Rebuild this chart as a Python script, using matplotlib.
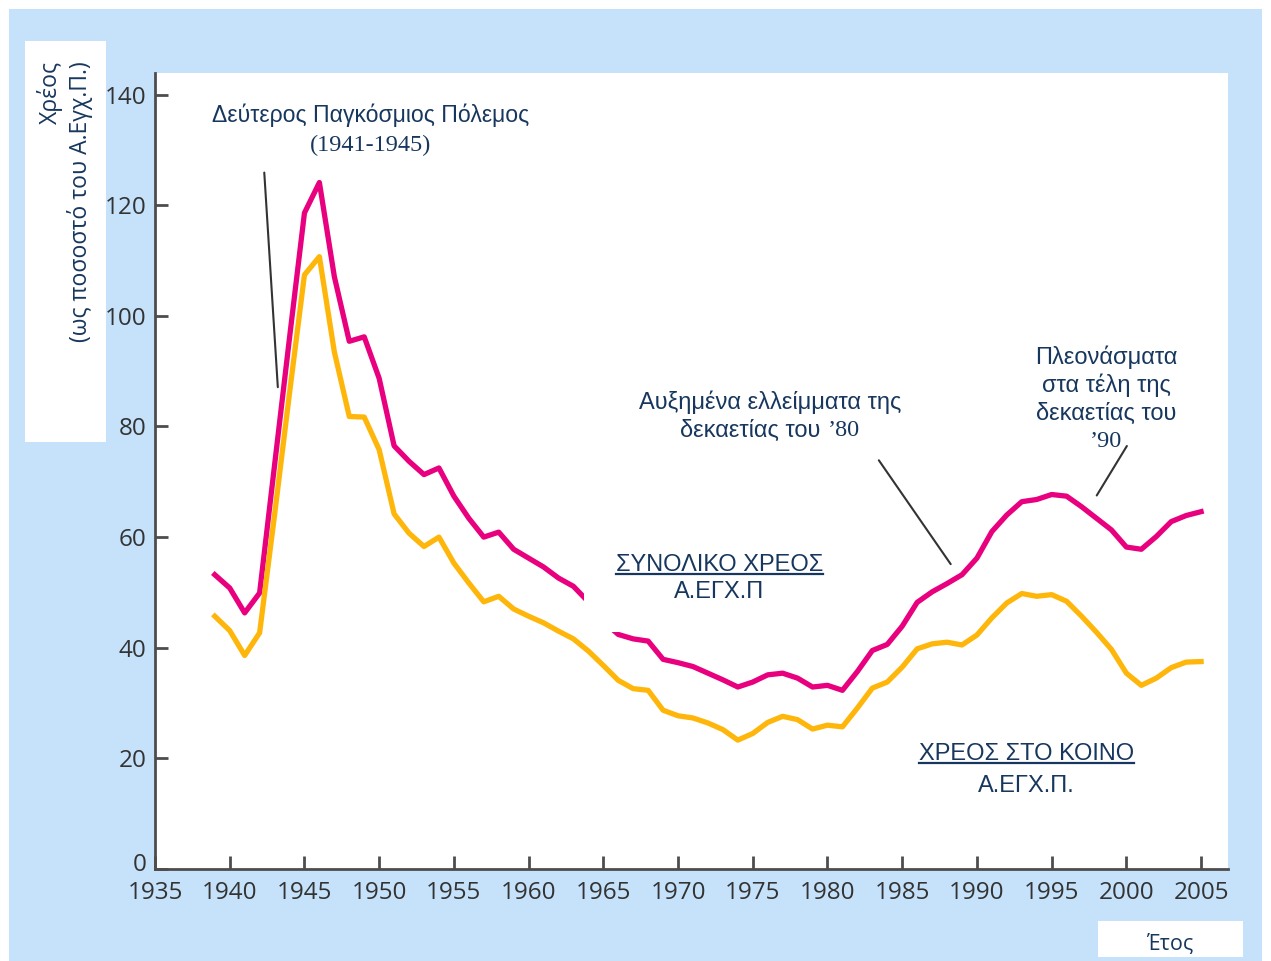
import matplotlib
matplotlib.use("Agg")
import matplotlib.pyplot as plt
from matplotlib.patches import Rectangle
from matplotlib.lines import Line2D
from matplotlib.transforms import IdentityTransform, ScaledTranslation

# --- data ---
years = list(range(1939, 2006))
total_debt = [53.2, 50.8, 46.3, 49.9, 73.0, 96.0, 118.6, 124.1, 107.1, 95.4,
              96.2, 88.7, 76.5, 73.7, 71.3, 72.5, 67.4, 63.4, 60.0, 60.9,
              57.8, 56.2, 54.6, 52.6, 51.1, 48.3, 44.8, 42.4, 41.6, 41.2,
              37.9, 37.3, 36.6, 35.4, 34.2, 32.9, 33.8, 35.1, 35.4, 34.5,
              32.9, 33.2, 32.3, 35.7, 39.5, 40.6, 43.9, 48.2, 50.1, 51.6,
              53.2, 56.2, 61.0, 64.0, 66.4, 66.8, 67.7, 67.4, 65.5, 63.4,
              61.3, 58.2, 57.8, 60.1, 62.8, 63.9, 64.6]
public_debt = [45.7, 43.1, 38.6, 42.7, 64.0, 86.0, 107.4, 110.7, 93.5, 81.8,
               81.7, 75.8, 64.2, 60.7, 58.3, 60.0, 55.3, 51.7, 48.3, 49.3,
               47.0, 45.7, 44.5, 43.0, 41.6, 39.4, 36.8, 34.1, 32.6, 32.3,
               28.7, 27.7, 27.3, 26.4, 25.2, 23.3, 24.5, 26.5, 27.6, 27.0,
               25.3, 26.0, 25.7, 29.1, 32.7, 33.8, 36.5, 39.8, 40.7, 41.0,
               40.5, 42.3, 45.4, 48.1, 49.8, 49.3, 49.6, 48.4, 45.7, 42.8,
               39.7, 35.4, 33.2, 34.5, 36.4, 37.4, 37.5]
x_ticks = list(range(1935, 2006, 5))
y_ticks = list(range(0, 141, 20))

PINK = "#e8007f"
YELLOW = "#ffb60a"
NAVY = "#17375e"
BLUE_BG = "#c5e2fa"
AXIS_GREY = "#4d4d4d"
LEADER = "#333333"

W, H = 1271, 961
fig = plt.figure(figsize=(W / 100, H / 100), dpi=100, facecolor="white")


def px_rect(x0, y0, x1, y1, color, z):
    # rectangle given in picture pixels (origin top-left)
    fig.add_artist(Rectangle((x0 / W, 1 - y1 / H), (x1 - x0) / W, (y1 - y0) / H,
                             transform=fig.transFigure, facecolor=color,
                             edgecolor="none", zorder=z))


px_rect(9, 9, 1262, 961, BLUE_BG, -10)
px_rect(25, 41, 106, 442, "white", -5)
px_rect(1098, 921, 1243, 957, "white", -5)

ax = fig.add_axes([155 / W, 1 - 869 / H, (1228 - 155) / W, (869 - 73) / H])
ax.set_facecolor("white")

ax.plot(years, total_debt, color=PINK, lw=3.8, solid_joinstyle="round", zorder=2)
ax.plot(years, public_debt, color=YELLOW, lw=3.8, solid_joinstyle="round", zorder=2)

ax.set_xlim(1935, 2006.8)
ax.set_ylim(0, 143.9)
ax.set_xticks(x_ticks)
ax.set_yticks(y_ticks)
for s in ["top", "right"]:
    ax.spines[s].set_visible(False)
for s in ["left", "bottom"]:
    ax.spines[s].set_color(AXIS_GREY)
    ax.spines[s].set_linewidth(2)
ax.tick_params(direction="in", length=9.5, width=2, color=AXIS_GREY,
               labelsize=17.5, labelcolor="#333333")
ax.tick_params(axis="y", pad=6)
ax.tick_params(axis="x", pad=8.5)
for lab in ax.get_xticklabels() + ax.get_yticklabels():
    lab.set_fontfamily("Open Sans")

sans = "Liberation Sans"
serif = "Liberation Serif"
FS = 17

# WWII annotation
ax.text(1949.4, 136.2, "Δεύτερος Παγκόσμιος Πόλεμος", ha="center", va="center",
        fontsize=16.6, color=NAVY, family=sans)
ax.text(1949.4, 130.8, "(1941-1945)", ha="center", va="center",
        fontsize=17.5, color=NAVY, family=serif)
ax.annotate("", xy=(1943.23, 86.6), xytext=(1942.3, 126.4),
            arrowprops=dict(arrowstyle="-", color=LEADER, lw=1.5))

# 80s deficits annotation
ax.text(1976.16, 84.3, "Αυξημένα ελλείμματα της", ha="center", va="center",
        fontsize=FS, color=NAVY, family=sans)
dec80 = ax.text(1976.16, 79.2, "δεκαετίας του", ha="left", va="center",
                fontsize=FS, color=NAVY, family=sans)
y80 = ax.text(1976.16, 79.2, "’80", ha="left", va="center",
              fontsize=17.5, color=NAVY, family=serif)
ax.annotate("", xy=(1988.35, 54.7), xytext=(1983.33, 74.3),
            arrowprops=dict(arrowstyle="-", color=LEADER, lw=1.5))

# 90s surpluses annotation
for i, line in enumerate(["Πλεονάσματα", "στα τέλη της", "δεκαετίας του"]):
    ax.text(1998.65, 92.5 - i * 5.1, line, ha="center", va="center",
            fontsize=FS, color=NAVY, family=sans)
ax.text(1998.65, 77.2, "’90", ha="center", va="center",
        fontsize=17.5, color=NAVY, family=serif)
ax.annotate("", xy=(1997.92, 67.1), xytext=(2000.13, 76.9),
            arrowprops=dict(arrowstyle="-", color=LEADER, lw=1.5))

# series labels: (x, baseline of line 1, baseline of line 2)
total_l1 = ax.text(1972.75, 53.93, "ΣΥΝΟΛΙΚΟ ΧΡΕΟΣ", ha="center", va="baseline",
                   fontsize=FS, color=NAVY, family=sans, zorder=4)
total_l2 = ax.text(1972.75, 49.05, "Α.ΕΓΧ.Π", ha="center", va="baseline",
                   fontsize=FS, color=NAVY, family=sans, zorder=4)
public_l1 = ax.text(1993.3, 19.78, "ΧΡΕΟΣ ΣΤΟ ΚΟΙΝΟ", ha="center", va="baseline",
                    fontsize=FS, color=NAVY, family=sans, zorder=4)
public_l2 = ax.text(1993.3, 14.0, "Α.ΕΓΧ.Π.", ha="center", va="baseline",
                    fontsize=FS, color=NAVY, family=sans, zorder=4)

# axis titles in their white boxes
fig.text(50 / W, 1 - 61 / H, "Χρέος", rotation=90, ha="center", va="top",
         fontsize=16.6, color=NAVY, family="Open Sans")
fig.text(80 / W, 1 - 61 / H, "(ως ποσοστό του Α.Εγχ.Π.)", rotation=90,
         ha="center", va="top", fontsize=16.6, color=NAVY, family="Open Sans")
fig.text(1170 / W, 1 - 944 / H, "Έτος", ha="center", va="center",
         fontsize=15.5, color=NAVY, family="Open Sans")

# --- layout touches that need text extents ---
fig.canvas.draw()
renderer = fig.canvas.get_renderer()

# "δεκαετίας του ’80" centred as one line made of two fonts
w1 = dec80.get_window_extent(renderer).width
w2 = y80.get_window_extent(renderer).width
gap = 7
cx = ax.transData.transform((1976.16, 0))[0]
x_start = cx - (w1 + gap + w2) / 2
inv = ax.transData.inverted()
dec80.set_x(inv.transform((x_start, 0))[0])
y80.set_x(inv.transform((x_start + w1 + gap, 0))[0])

# white box behind the total-debt label, cutting the pink line
b1 = total_l1.get_window_extent(renderer)
b2 = total_l2.get_window_extent(renderer)
pad_x, pad_y = 32, 29
x0 = min(b1.x0, b2.x0) - pad_x
x1 = max(b1.x1, b2.x1) + pad_x
y0 = min(b1.y0, b2.y0) - pad_y
y1 = max(b1.y1, b2.y1) + pad_y
ax.add_artist(Rectangle((x0, y0), x1 - x0, y1 - y0, transform=IdentityTransform(),
                        facecolor="white", edgecolor="none", zorder=3))

# underline the first line of each series label
for t in [total_l1, public_l1]:
    bb = t.get_window_extent(renderer)
    base = ax.transData.transform(t.get_position())[1]
    ax.add_artist(Line2D([bb.x0, bb.x1], [base - 3, base - 3],
                         transform=IdentityTransform(), color=NAVY, lw=1.6,
                         zorder=5))

# the "0" tick label sits a little above the x axis
zero_lab = ax.get_yticklabels()[0]
zero_lab.set_transform(zero_lab.get_transform()
                       + ScaledTranslation(0, 7 / 100, fig.dpi_scale_trans))

fig.savefig("out.png", dpi=100, facecolor="white")
